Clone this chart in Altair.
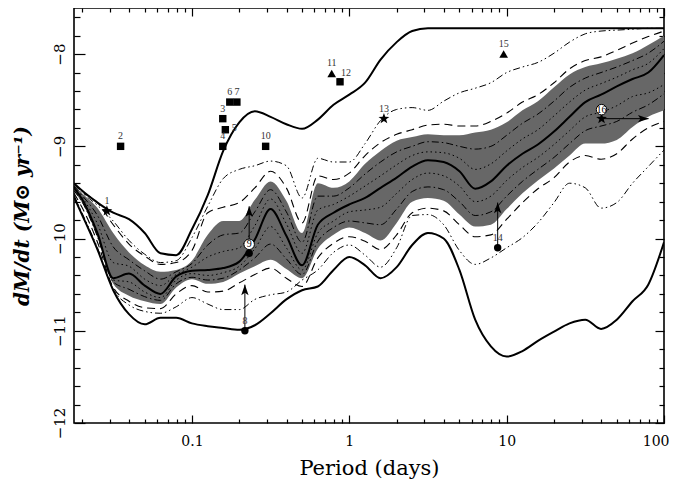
import altair as alt
import pandas as pd

# ---------------- data ----------------
period = [0.0178, 0.02, 0.0251, 0.0316, 0.0398, 0.0501, 0.0631, 0.0794, 0.1, 0.126,
          0.158, 0.2, 0.251, 0.316, 0.398, 0.501, 0.631, 0.794, 1.0, 1.26,
          1.58, 2.0, 2.51, 3.16, 3.98, 5.01, 6.31, 7.94, 10.0, 12.6,
          15.8, 20.0, 25.1, 31.6, 39.8, 50.1, 63.1, 79.4, 100.0]

solid_upper = [-9.40, -9.48, -9.61, -9.72, -9.79, -9.94, -10.16, -10.18, -9.90, -9.53,
               -9.05, -8.74, -8.62, -8.68, -8.76, -8.81, -8.71, -8.55, -8.44, -8.31,
               -8.06, -7.87, -7.75, -7.72, -7.72, -7.72, -7.72, -7.72, -7.72, -7.72,
               -7.72, -7.72, -7.72, -7.72, -7.72, -7.72, -7.72, -7.72, -7.72]
solid_lower = [-9.55, -9.74, -10.12, -10.56, -10.82, -10.93, -10.86, -10.86, -10.92, -10.95,
               -10.97, -10.99, -10.94, -10.81, -10.66, -10.56, -10.52, -10.34, -10.20, -10.29,
               -10.43, -10.31, -10.07, -9.94, -10.00, -10.34, -10.88, -11.17, -11.28, -11.22,
               -11.11, -11.01, -10.92, -10.88, -10.98, -10.88, -10.68, -10.50, -10.04]
median = [-9.45, -9.57, -9.94, -10.43, -10.38, -10.51, -10.60, -10.41, -10.35, -10.34,
          -10.32, -10.25, -10.01, -9.68, -9.97, -10.29, -9.85, -9.72, -9.63, -9.56,
          -9.45, -9.34, -9.22, -9.15, -9.17, -9.27, -9.46, -9.38, -9.21, -9.08,
          -8.98, -8.84, -8.68, -8.52, -8.44, -8.35, -8.27, -8.20, -8.01]
band_top = [-9.42, -9.51, -9.67, -9.94, -10.15, -10.29, -10.36, -10.34, -10.24, -9.96,
            -9.81, -9.81, -9.58, -9.38, -9.59, -9.94, -9.40, -9.45, -9.38, -9.19,
            -9.05, -8.94, -8.90, -8.87, -8.88, -8.88, -8.85, -8.82, -8.74, -8.61,
            -8.51, -8.36, -8.22, -8.14, -8.10, -8.05, -7.99, -7.90, -7.80]
band_bottom = [-9.49, -9.61, -9.99, -10.49, -10.62, -10.68, -10.71, -10.53, -10.44, -10.49,
               -10.47, -10.38, -10.30, -10.23, -10.33, -10.43, -10.11, -9.96, -9.88, -9.94,
               -10.02, -9.83, -9.60, -9.56, -9.59, -9.74, -9.87, -9.85, -9.68, -9.51,
               -9.37, -9.24, -9.10, -8.97, -8.97, -8.93, -8.79, -8.68, -8.61]
dashdot_upper = [-9.43, -9.53, -9.75, -10.09, -10.23, -10.35, -10.44, -10.36, -10.27, -10.07,
                 -9.96, -9.94, -9.71, -9.47, -9.71, -10.04, -9.54, -9.54, -9.45, -9.30,
                 -9.17, -9.06, -9.00, -8.95, -8.96, -9.00, -9.03, -9.00, -8.88, -8.75,
                 -8.65, -8.51, -8.36, -8.26, -8.20, -8.14, -8.07, -7.99, -7.86]
dotted_upper = [-9.44, -9.55, -9.84, -10.26, -10.30, -10.44, -10.51, -10.39, -10.31, -10.20,
                -10.14, -10.10, -9.86, -9.57, -9.84, -10.16, -9.69, -9.63, -9.54, -9.43,
                -9.32, -9.20, -9.10, -9.06, -9.07, -9.13, -9.25, -9.19, -9.05, -8.92,
                -8.82, -8.67, -8.52, -8.39, -8.32, -8.25, -8.17, -8.10, -7.94]
dotted_lower = [-9.48, -9.58, -9.96, -10.45, -10.47, -10.58, -10.64, -10.45, -10.38, -10.40,
                -10.37, -10.30, -10.11, -9.87, -10.10, -10.34, -9.94, -9.81, -9.71, -9.69,
                -9.66, -9.51, -9.36, -9.29, -9.32, -9.43, -9.60, -9.54, -9.37, -9.23,
                -9.12, -8.98, -8.83, -8.68, -8.63, -8.56, -8.46, -8.42, -8.33]
dashdot_lower = [-9.48, -9.60, -9.98, -10.47, -10.55, -10.63, -10.67, -10.49, -10.42, -10.45,
                 -10.43, -10.34, -10.21, -10.06, -10.22, -10.39, -10.03, -9.88, -9.81, -9.83,
                 -9.85, -9.68, -9.49, -9.44, -9.47, -9.60, -9.75, -9.71, -9.54, -9.38,
                 -9.25, -9.12, -8.97, -8.83, -8.78, -8.73, -8.63, -8.55, -8.43]
dashed_upper = [-9.41, -9.49, -9.61, -9.85, -10.06, -10.19, -10.28, -10.26, -10.13, -9.72,
                -9.66, -9.61, -9.45, -9.27, -9.45, -9.83, -9.32, -9.36, -9.29, -9.10,
                -8.96, -8.87, -8.82, -8.77, -8.76, -8.78, -8.78, -8.73, -8.64, -8.52,
                -8.44, -8.31, -8.16, -8.07, -8.03, -7.96, -7.88, -7.81, -7.75]
dashed_lower = [-9.51, -9.66, -10.04, -10.53, -10.68, -10.75, -10.76, -10.60, -10.51, -10.58,
                -10.57, -10.48, -10.39, -10.32, -10.43, -10.52, -10.21, -10.05, -9.98, -10.03,
                -10.12, -9.96, -9.72, -9.67, -9.70, -9.85, -9.98, -9.96, -9.79, -9.61,
                -9.46, -9.34, -9.17, -9.10, -9.14, -9.08, -8.92, -8.80, -8.73]
dashdotdot_upper = [-9.41, -9.50, -9.64, -9.81, -10.02, -10.17, -10.26, -10.24, -9.99, -9.65,
                    -9.35, -9.25, -9.21, -9.16, -9.21, -9.56, -9.13, -9.17, -9.17, -8.97,
                    -8.72, -8.60, -8.58, -8.61, -8.51, -8.42, -8.37, -8.31, -8.20, -8.14,
                    -8.09, -7.99, -7.87, -7.78, -7.75, -7.74, -7.73, -7.72, -7.72]
dashdotdot_lower = [-9.53, -9.72, -10.10, -10.55, -10.72, -10.79, -10.81, -10.74, -10.64, -10.71,
                    -10.77, -10.77, -10.66, -10.61, -10.58, -10.45, -10.34, -10.15, -10.07, -10.18,
                    -10.31, -10.10, -9.75, -9.74, -9.85, -10.13, -10.28, -10.21, -10.10, -9.99,
                    -9.83, -9.61, -9.40, -9.45, -9.67, -9.61, -9.40, -9.22, -9.04]

# observed systems
sq_period = [0.0352, 0.157, 0.157, 0.174, 0.193, 0.294, 0.873]
sq_value = [-9.0, -8.7, -9.0, -8.52, -8.52, -9.0, -8.30]
sq_label = ["2", "3", "4", "6", "7", "10", ""]
sq5_period = [0.163]
sq5_value = [-8.82]
tri_period = [0.773, 9.57]
tri_value = [-8.21, -8.0]
tri_label = ["11", "15"]
star_period = [0.0288, 1.66, 40.1]
star_value = [-9.70, -8.70, -8.70]
star_label = ["1", "13", ""]
circ_period = [0.217, 0.231, 8.77]
circ_value = [-11.0, -10.16, -10.10]
circ_label = ["8", "", "14"]
ring_period = [0.231, 40.1]
ring_value = [-10.16, -8.70]
ring_label = ["9", "16"]
lab12_period = [0.873]
lab12_value = [-8.30]

# arrows (limits)
arrow_up_period = [0.217, 0.231, 8.77]
arrow_up_from = [-11.0, -10.16, -10.10]
arrow_up_to = [-10.50, -9.65, -9.61]
arrow_right_from = [40.1]
arrow_right_to = [79.8]
arrow_right_value = [-8.70]

x_major = [0.1, 1, 10, 100]
x_minor = [0.02, 0.03, 0.04, 0.05, 0.06, 0.07, 0.08, 0.09,
           0.2, 0.3, 0.4, 0.5, 0.6, 0.7, 0.8, 0.9,
           2, 3, 4, 5, 6, 7, 8, 9,
           20, 30, 40, 50, 60, 70, 80, 90]
y_major = [-12, -11, -10, -9, -8]
y_minor = [-11.8, -11.6, -11.4, -11.2, -10.8, -10.6, -10.4, -10.2,
           -9.8, -9.6, -9.4, -9.2, -8.8, -8.6, -8.4, -8.2, -7.8, -7.6]

# ---------------- build tables ----------------
curves = {
    "solid_upper": solid_upper, "solid_lower": solid_lower, "median": median,
    "dashdot_upper": dashdot_upper, "dotted_upper": dotted_upper,
    "dotted_lower": dotted_lower, "dashdot_lower": dashdot_lower,
    "dashed_upper": dashed_upper, "dashed_lower": dashed_lower,
    "dashdotdot_upper": dashdotdot_upper, "dashdotdot_lower": dashdotdot_lower,
}
rows = []
for name, vals in curves.items():
    for p, v in zip(period, vals):
        rows.append({"curve": name, "period": p, "value": v})
lines_df = pd.DataFrame(rows)
band_df = pd.DataFrame({"period": period, "value": band_top, "value2": band_bottom})

FONT = "DejaVu Serif"
xscale = alt.Scale(type="log", domain=[0.0178, 100], nice=False)
yscale = alt.Scale(domain=[-12, -7.5], nice=False, zero=False)

x_axis = alt.Axis(values=x_major, title="Period (days)", format="~g", ticks=False,
                  domain=False, grid=False,
                  labelFont=FONT, labelFontSize=14, labelColor="black", labelPadding=11,
                  labelFlush=True, labelFlushOffset=5, labelOverlap=False,
                  titleFont=FONT, titleFontSize=21, titleFontWeight="normal",
                  titleColor="black", titlePadding=9)
y_axis = alt.Axis(values=y_major, title="dM/dt (M⊙ yr⁻¹)", format="~g", ticks=False,
                  domain=False, grid=False,
                  labelAngle=-90, labelAlign="center", labelBaseline="bottom",
                  labelFont=FONT, labelFontSize=15, labelColor="black", labelPadding=7,
                  labelFlush=False, labelOverlap=False,
                  titleFont=FONT, titleFontSize=20, titleFontStyle="italic",
                  titleFontWeight="bold", titleColor="black", titlePadding=20)


def tick_axis(values, orient, size):
    return alt.Axis(values=values, title=None, labels=False, orient=orient,
                    tickSize={"expr": str(-size)}, tickColor="black", tickWidth=1.2,
                    domain=False, grid=False)


def EX(field="period"):
    return alt.X(f"{field}:Q", scale=xscale, axis=x_axis)


def EY(field="value"):
    return alt.Y(f"{field}:Q", scale=yscale, axis=y_axis)


band = alt.Chart(band_df).mark_area(color="#676767", interpolate="monotone").encode(
    x=EX(), y=EY(), y2="value2:Q")


def line(name, width, dash=None):
    kw = dict(color="black", strokeWidth=width, interpolate="monotone", clip=True)
    if dash is not None:
        kw["strokeDash"] = dash
    return alt.Chart(lines_df).transform_filter(alt.datum.curve == name).mark_line(**kw).encode(
        x=EX(), y=EY())


DOT = [1.5, 3]
DASH = [8, 5]
DASHDOT = [7, 3, 1.5, 3]
DASHDOTDOT = [7, 3, 1.5, 3, 1.5, 3]

layers = [
    band,
    line("dotted_upper", 1, DOT), line("dotted_lower", 1, DOT),
    line("dashdot_upper", 1, DASHDOT), line("dashdot_lower", 1, DASHDOT),
    line("dashed_upper", 1.1, DASH), line("dashed_lower", 1.1, DASH),
    line("dashdotdot_upper", 1, DASHDOTDOT), line("dashdotdot_lower", 1, DASHDOTDOT),
    line("solid_upper", 2), line("solid_lower", 2), line("median", 2),
]

STAR = ("M0,-1L0.235,-0.324L0.951,-0.309L0.380,0.124L0.588,0.809L0,0.4"
        "L-0.588,0.809L-0.380,0.124L-0.951,-0.309L-0.235,-0.324Z")
HEAD = "M0,-1L0.6,0.75L0,0.35L-0.6,0.75Z"
LABFONT = "Liberation Serif"

sq_df = pd.DataFrame({"period": sq_period, "value": sq_value, "label": sq_label})
sq5_df = pd.DataFrame({"period": sq5_period, "value": sq5_value, "label": ["5"]})
tri_df = pd.DataFrame({"period": tri_period, "value": tri_value, "label": tri_label})
star_df = pd.DataFrame({"period": star_period, "value": star_value, "label": star_label})
circ_df = pd.DataFrame({"period": circ_period, "value": circ_value, "label": circ_label})
ring_df = pd.DataFrame({"period": ring_period, "value": ring_value, "label": ring_label})
lab12_df = pd.DataFrame({"period": lab12_period, "value": lab12_value, "label": ["12"]})
up_df = pd.DataFrame({"period": arrow_up_period, "value": arrow_up_from, "value2": arrow_up_to})
right_df = pd.DataFrame({"period": arrow_right_from, "period2": arrow_right_to,
                         "value": arrow_right_value})

layers += [
    alt.Chart(up_df).mark_rule(color="black", strokeWidth=1).encode(x=EX(), y=EY(), y2="value2:Q"),
    alt.Chart(up_df).mark_point(shape=HEAD, filled=True, color="black", size=150, opacity=1,
                                yOffset=6).encode(x=EX(), y=EY("value2")),
    alt.Chart(right_df).mark_rule(color="black", strokeWidth=1).encode(x=EX(), x2="period2:Q", y=EY()),
    alt.Chart(right_df).mark_point(shape=HEAD, filled=True, color="black", size=150, opacity=1,
                                   angle=90, xOffset=-6).encode(x=EX("period2"), y=EY()),
    alt.Chart(sq_df).mark_point(shape="square", filled=True, color="black", size=55, opacity=1).encode(x=EX(), y=EY()),
    alt.Chart(sq5_df).mark_point(shape="square", filled=True, color="black", size=55, opacity=1).encode(x=EX(), y=EY()),
    alt.Chart(tri_df).mark_point(shape="triangle-up", filled=True, color="black", size=75, opacity=1).encode(x=EX(), y=EY()),
    alt.Chart(star_df).mark_point(shape=STAR, filled=True, color="black", size=130, opacity=1).encode(x=EX(), y=EY()),
    alt.Chart(circ_df).mark_point(shape="circle", filled=True, color="black", size=55, opacity=1).encode(x=EX(), y=EY()),
    alt.Chart(ring_df).mark_point(shape="circle", filled=True, fill="white", stroke="black",
                                  strokeWidth=1, size=110, opacity=1, yOffset=-9).encode(x=EX(), y=EY()),
    alt.Chart(ring_df).mark_text(font=LABFONT, fontSize=10, color="black", dy=-9,
                                 baseline="middle").encode(x=EX(), y=EY(), text="label:N"),
]
for df in (sq_df, tri_df, star_df, circ_df):
    layers.append(alt.Chart(df).mark_text(font=LABFONT, fontSize=10, color="#333333", dy=-10,
                                          baseline="middle").encode(x=EX(), y=EY(), text="label:N"))
layers.append(alt.Chart(sq5_df).mark_text(font=LABFONT, fontSize=10, color="#333333", dx=9, dy=-2,
                                          baseline="middle").encode(x=EX(), y=EY(), text="label:N"))
layers.append(alt.Chart(lab12_df).mark_text(font=LABFONT, fontSize=10, color="#333333", dx=6, dy=-9,
                                            baseline="middle").encode(x=EX(), y=EY(), text="label:N"))

main = alt.layer(*layers)


def tick_layer(xvals, xorient, xsize, yvals, yorient, ysize):
    return alt.Chart(band_df).mark_point(opacity=0).encode(
        x=alt.X("period:Q", scale=xscale, axis=tick_axis(xvals, xorient, xsize)),
        y=alt.Y("value:Q", scale=yscale, axis=tick_axis(yvals, yorient, ysize)))


chart = alt.layer(
    main,
    tick_layer(x_major, "bottom", 8, y_major, "left", 11),
    tick_layer(x_minor, "bottom", 4, y_minor, "left", 6),
    tick_layer(x_major, "top", 8, y_major, "right", 9),
    tick_layer(x_minor, "top", 4, y_minor, "right", 5),
).resolve_axis(x="independent", y="independent").properties(
    width=590, height=415,
    autosize=alt.AutoSizeParams(type="none"),
    padding={"left": 66, "top": 0, "right": 5, "bottom": 62},
).configure_view(stroke="black", strokeWidth=1.6)

chart.save("out.html", embed_options={"renderer": "svg", "actions": False})
